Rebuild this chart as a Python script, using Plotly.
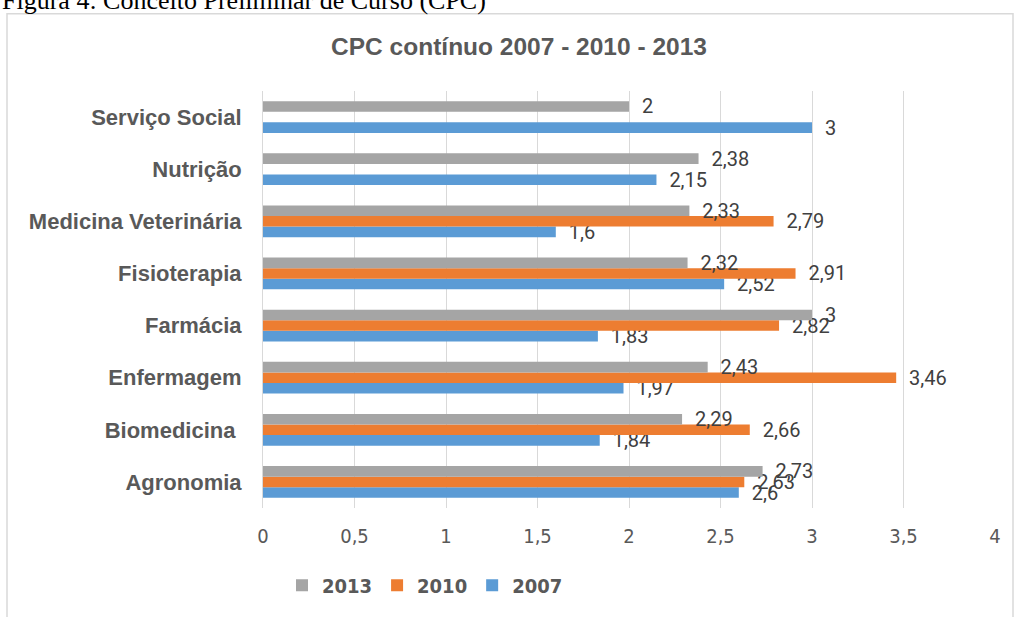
import plotly.graph_objects as go

categories = ["Agronomia", "Biomedicina\u00a0", "Enfermagem", "Farmácia", "Fisioterapia",
              "Medicina Veterinária", "Nutrição", "Serviço Social"]
v2013 = [2.73, 2.29, 2.43, 3.00, 2.32, 2.33, 2.38, 2.00]
v2010 = [2.63, 2.66, 3.46, 2.82, 2.91, 2.79, None, None]
v2007 = [2.60, 1.84, 1.97, 1.83, 2.52, 1.60, 2.15, 3.00]
x_ticks = [0, 0.5, 1, 1.5, 2, 2.5, 3, 3.5, 4]

W, H = 1014, 617
L, R, T, B = 263, 19, 91, 105
PW, PH = W - L - R, H - T - B


def px_x(px):
    return (px - L) / PW


def px_y(py):
    return (H - B - py) / PH


def lab(vals):
    return ["" if v is None else "\u00a0\u00a0" + (f"{v:g}".replace(".", ",")) for v in vals]


series = [("2007", v2007, "#5B9BD5"), ("2010", v2010, "#ED7D31"), ("2013", v2013, "#A5A5A5")]

fig = go.Figure()
for name, vals, col in series:
    fig.add_trace(go.Bar(
        y=categories, x=vals, name=name, orientation="h",
        marker=dict(color=col, line=dict(width=0)),
        text=lab(vals), textposition="outside", constraintext="none", cliponaxis=False,
        textfont=dict(family="Roboto, Liberation Sans, sans-serif", size=20, color="#404040"),
    ))

tick_font = "Liberation Sans Narrow, DejaVu Sans Condensed, Roboto Condensed, Roboto, sans-serif"

fig.update_layout(
    width=W, height=H,
    margin=dict(l=L, r=R, t=T, b=B),
    paper_bgcolor="white", plot_bgcolor="white",
    separators=",.",
    barmode="group", bargap=0.39, bargroupgap=0,
    title=dict(text="<b>CPC contínuo 2007 - 2010 - 2013</b>", x=519 / W, xanchor="center",
               y=1 - 46 / H, yanchor="middle",
               font=dict(family="Liberation Sans, Arial, sans-serif", size=24.5, color="#595959")),
    xaxis=dict(range=[0, 4], tickvals=x_ticks, showgrid=True, gridcolor="#D9D9D9", gridwidth=1,
               zeroline=False, showline=False, ticks="", ticklabelstandoff=14,
               tickfont=dict(family=tick_font, size=20, color="#595959")),
    yaxis=dict(categoryorder="array", categoryarray=categories, showgrid=False, zeroline=False,
               showline=True, linecolor="#D9D9D9", linewidth=1, ticks="", ticklabelstandoff=16,
               tickfont=dict(family="Liberation Sans, Arial, sans-serif", size=22, color="#595959"),
               tickprefix="<b>", ticksuffix="</b>"),
    legend=dict(orientation="h", traceorder="reversed", x=px_x(425), xanchor="center",
                y=px_y(590), yanchor="middle", itemwidth=30,
                font=dict(family=tick_font, size=20, color="#595959")),
    showlegend=True,
)

fig.update_layout(legend_font_weight="bold")

fig.add_shape(type="rect", xref="paper", yref="paper",
              x0=px_x(7), x1=px_x(1013), y0=px_y(640), y1=px_y(13),
              line=dict(color="#D9D9D9", width=1.5), fillcolor="rgba(0,0,0,0)", layer="below")

fig.add_annotation(text="Figura 4: Conceito Preliminar de Curso (CPC)", xref="paper", yref="paper",
                   x=px_x(0), y=px_y(16), xanchor="left", yanchor="bottom", showarrow=False,
                   font=dict(family="Liberation Serif, Times New Roman, serif", size=26, color="#000000"))

fig.write_html("out.html")
